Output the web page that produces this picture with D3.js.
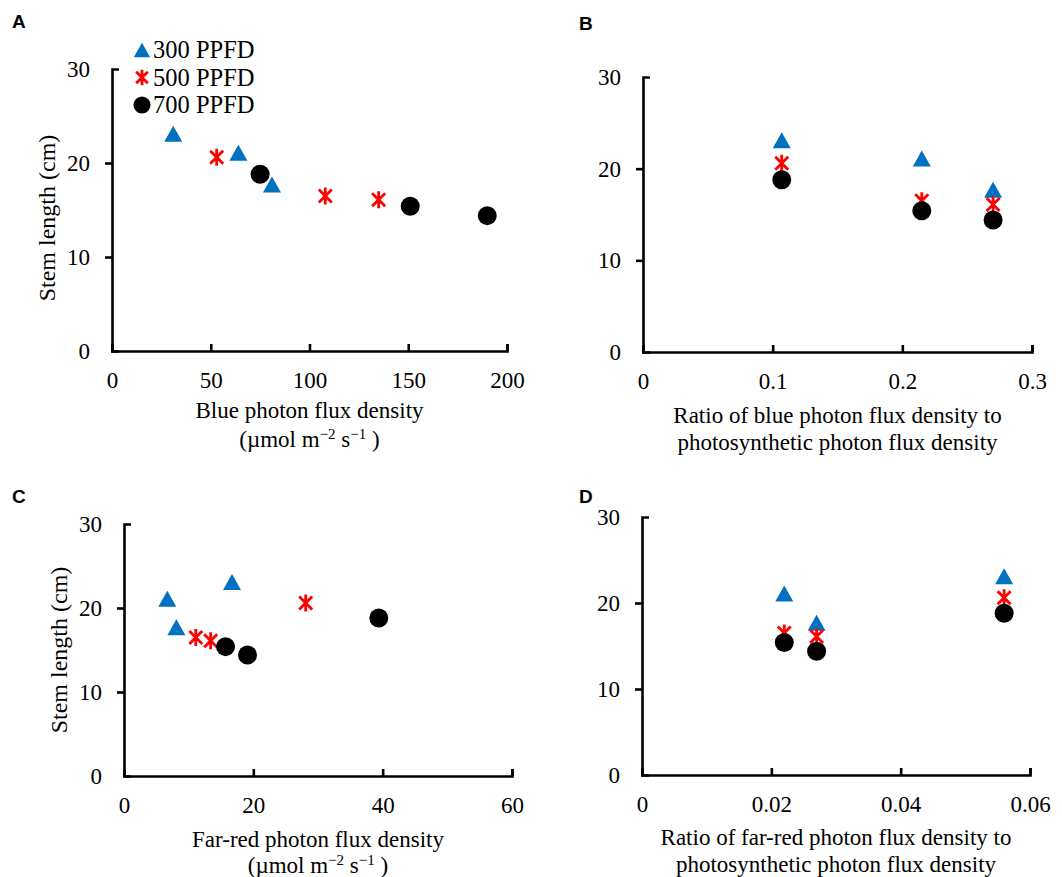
<!DOCTYPE html>
<html>
<head>
<meta charset="utf-8">
<script src="https://cdn.jsdelivr.net/npm/d3@7"></script>
<style>
  body { margin: 0; background: #fff; }
  text { font-family: 'Liberation Serif', 'Times New Roman', serif; fill: #000; }
  .axis path, .axis line { stroke: #000; stroke-width: 2.6; }
  .axis text { font-size: 23px; font-family: 'Liberation Serif', 'Times New Roman', serif; }
  .letter { font-family: 'Liberation Sans', Arial, sans-serif; font-weight: bold; font-size: 19px; }
</style>
</head>
<body>
<svg id="chart" width="1062" height="877"></svg>
<script>
// treatments: three light spectra x three PPFD levels
let ppfdLabels = ['300 PPFD', '500 PPFD', '700 PPFD']

// stem length (cm), one value per spectrum
let stem300 = [23.1, 21.1, 17.7]
let stem500 = [20.6, 16.5, 16.1]
let stem700 = [18.8, 15.4, 14.4]

// blue photon flux density (umol m-2 s-1)
let blue300 = [31, 64, 81]
let blue500 = [53, 108, 135]
let blue700 = [75, 151, 190]

// far-red photon flux density (umol m-2 s-1)
let farRed300 = [16.7, 6.7, 8.1]
let farRed500 = [28.1, 11.1, 13.4]
let farRed700 = [39.4, 15.7, 19.1]

// fractions of PPFD
let blueRatio = [0.107, 0.215, 0.27]
let farRedRatio = [0.056, 0.022, 0.027]

let yTicks = [0, 10, 20, 30]
let ticksA = [0, 50, 100, 150, 200]
let ticksB = [0, 0.1, 0.2, 0.3]
let ticksC = [0, 20, 40, 60]
let ticksD = [0, 0.02, 0.04, 0.06]

let stems = [stem300, stem500, stem700]
let shapes = ['triangle', 'asterisk', 'circle']
let colors = ['#0070c0', '#ff0000', '#000000']

let panels = [
  { letter: 'A', lx: 12, ly: 28, left: 112, right: 507, top: 69, bottom: 351,
    xs: [blue300, blue500, blue700], xDomain: [0, 200], ticks: ticksA, fmt: d3.format('d'),
    title: ['Blue photon flux density', 'unit'], t1: 67, t2: 96, ylabel: true, ylabelShift: 8, legend: true },
  { letter: 'B', lx: 579, ly: 30, left: 643, right: 1032, top: 77, bottom: 352,
    xs: [blueRatio, blueRatio, blueRatio], xDomain: [0, 0.3], ticks: ticksB, fmt: d => d === 0 ? '0' : d3.format('.1f')(d),
    title: ['Ratio of blue photon flux density to', 'photosynthetic photon flux density'], t1: 71, t2: 98 },
  { letter: 'C', lx: 12, ly: 503, left: 124, right: 512, top: 524, bottom: 776,
    xs: [farRed300, farRed500, farRed700], xDomain: [0, 60], ticks: ticksC, fmt: d3.format('d'),
    title: ['Far-red photon flux density', 'unit'], t1: 71, t2: 97, ylabel: true, ylabelShift: 0 },
  { letter: 'D', lx: 579, ly: 503, left: 642, right: 1030, top: 517, bottom: 775,
    xs: [farRedRatio, farRedRatio, farRedRatio], xDomain: [0, 0.06], ticks: ticksD, fmt: d => d === 0 ? '0' : d3.format('.2f')(d),
    title: ['Ratio of far-red photon flux density to', 'photosynthetic photon flux density'], t1: 70, t2: 97 }
]

let svg = d3.select('#chart')
svg.append('rect').attr('width', 1062).attr('height', 877).attr('fill', '#fff')

function marker(shape, sel, scale) {
  let k = scale || 1
  if (shape === 'triangle') {
    sel.append('path')
      .attr('d', 'M0,' + (-8 * k) + 'L' + (9 * k) + ',' + (8 * k) + 'L' + (-9 * k) + ',' + (8 * k) + 'Z')
      .attr('fill', colors[0])
  } else if (shape === 'asterisk') {
    sel.append('path')
      .attr('d', 'M' + (-6.5 * k) + ',' + (-6.5 * k) + 'L' + (6.5 * k) + ',' + (6.5 * k) +
        'M' + (6.5 * k) + ',' + (-6.5 * k) + 'L' + (-6.5 * k) + ',' + (6.5 * k) +
        'M0,' + (-8.5 * k) + 'L0,' + (8.5 * k))
      .attr('stroke', colors[1])
      .attr('stroke-width', 2.8)
      .attr('fill', 'none')
  } else {
    sel.append('circle').attr('r', 9.5 * k).attr('fill', colors[2])
  }
}

panels.forEach(p => {
  let x = d3.scaleLinear().domain(p.xDomain).range([p.left, p.right])
  let y = d3.scaleLinear().domain([0, 30]).range([p.bottom, p.top])

  svg.append('text').attr('class', 'letter').attr('x', p.lx).attr('y', p.ly).text(p.letter)

  let xAxis = d3.axisBottom(x).tickValues(p.ticks).tickFormat(p.fmt)
    .tickSizeInner(-7).tickSizeOuter(-7).tickPadding(21)
  svg.append('g')
    .attr('class', 'axis x-axis')
    .attr('transform', 'translate(0,' + p.bottom + ')')
    .call(xAxis)

  let yAxis = d3.axisLeft(y).tickValues(yTicks).tickFormat(d3.format('d'))
    .tickSizeInner(7).tickSizeOuter(-7).tickPadding(15)
  let yg = svg.append('g')
    .attr('class', 'axis y-axis')
    .attr('transform', 'translate(' + p.left + ',0)')
    .call(yAxis)
  // top tick points inward in the original
  yg.selectAll('.tick').filter(d => d === 30).select('line').attr('x2', 0)
  yg.selectAll('.tick line').filter(d => d === 0).attr('x2', 0)

  // axis title
  let cx = (p.left + p.right) / 2
  svg.append('text')
    .attr('x', cx).attr('y', p.bottom + p.t1)
    .attr('text-anchor', 'middle').attr('font-size', 23)
    .text(p.title[0])
  let t2 = svg.append('text')
    .attr('x', cx).attr('y', p.bottom + p.t2)
    .attr('text-anchor', 'middle').attr('font-size', 23)
  if (p.title[1] === 'unit') {
    t2.append('tspan').text('(\u00b5mol m')
    t2.append('tspan').attr('dy', -8).attr('font-size', 15).text('\u22122')
    t2.append('tspan').attr('dy', 8).text(' s')
    t2.append('tspan').attr('dy', -8).attr('font-size', 15).text('\u22121')
    t2.append('tspan').attr('dy', 8).text(' )')
  } else {
    t2.text(p.title[1])
  }

  if (p.ylabel) {
    let cy = (p.top + p.bottom) / 2 + p.ylabelShift
    svg.append('text')
      .attr('transform', 'translate(' + (p.left - 57) + ',' + cy + ') rotate(-90)')
      .attr('text-anchor', 'middle').attr('font-size', 24)
      .text('Stem length (cm)')
  }

  // points, drawn series by series (triangles first, circles on top)
  stems.forEach((vals, s) => {
    vals.forEach((v, i) => {
      let g = svg.append('g')
        .attr('transform', 'translate(' + x(p.xs[s][i]) + ',' + y(v) + ')')
      marker(shapes[s], g)
    })
  })

  if (p.legend) {
    ppfdLabels.forEach((lab, s) => {
      let g = svg.append('g').attr('transform', 'translate(142,' + (50 + s * 27.5) + ')')
      marker(shapes[s], g, 0.9)
      g.append('text').attr('x', 11).attr('y', 8).attr('font-size', 24.5).text(lab)
    })
  }
})
</script>
</body>
</html>
